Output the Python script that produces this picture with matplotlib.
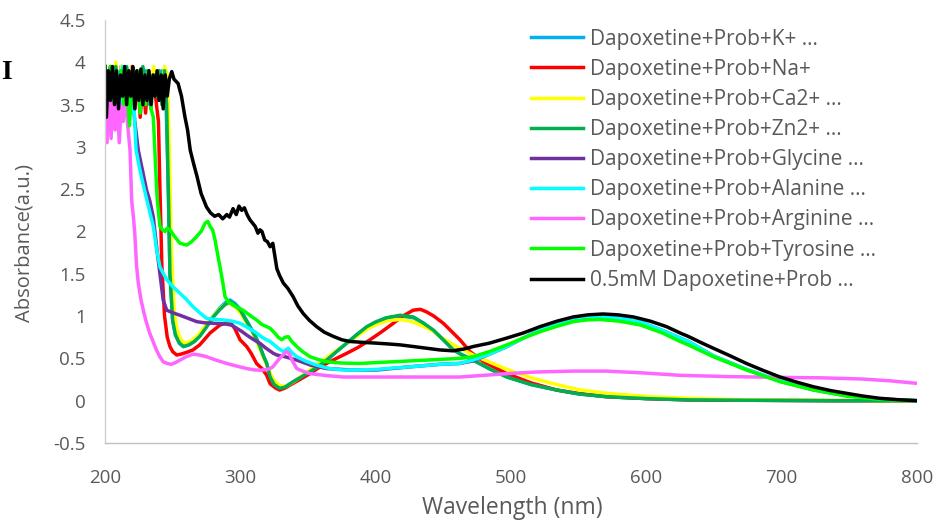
import matplotlib
matplotlib.use("Agg")
import matplotlib.pyplot as plt

plt.rcParams['font.family'] = ['Open Sans', 'DejaVu Sans']

# ---- data ----
labels = ["Dapoxetine+Prob+K+ ...", "Dapoxetine+Prob+Na+", "Dapoxetine+Prob+Ca2+ ...",
          "Dapoxetine+Prob+Zn2+ ...", "Dapoxetine+Prob+Glycine ...", "Dapoxetine+Prob+Alanine ...",
          "Dapoxetine+Prob+Arginine ...", "Dapoxetine+Prob+Tyrosine ...", "0.5mM Dapoxetine+Prob ..."]
colores = ['#00B0F0', '#FF0000', '#FFFF00', '#00B050', '#7030A0', '#00FFFF', '#FF66FF', '#00FF00', '#000000']

wl_k = [200, 203, 206, 209, 212, 215, 218, 221, 224, 227, 230, 233, 236, 239, 242, 245, 246.8, 248, 250, 252,
        255, 258, 262, 266, 270, 275, 280, 285, 289, 292.4, 296, 300, 303.5, 307, 311, 314.5, 317, 319.5, 322,
        325, 329, 333, 339, 345, 351.5, 358, 364, 371, 378.6, 386, 393.4, 400, 408, 418, 428, 435, 442.6, 450,
        457.4, 464, 472, 485, 497, 515, 534, 550, 571, 600, 631, 680, 740, 800]
abs_k = [3.85, 3.6, 3.9, 3.5, 3.95, 3.6, 3.9, 3.55, 3.85, 3.6, 3.9, 3.5, 3.85, 3.55, 3.9, 3.6, 2.5, 1.5, 0.95, 0.78,
         0.68, 0.64, 0.66, 0.70, 0.77, 0.88, 1.0, 1.1, 1.16, 1.19, 1.15, 1.08, 0.98, 0.88, 0.77, 0.64, 0.53, 0.44, 0.28,
         0.19, 0.15, 0.16, 0.22, 0.28, 0.34, 0.41, 0.48, 0.58, 0.68, 0.78, 0.87, 0.93, 0.98, 1.0, 0.98, 0.92, 0.83, 0.72,
         0.60, 0.54, 0.48, 0.37, 0.28, 0.19, 0.125, 0.08, 0.047, 0.025, 0.01, 0.005, 0.0, 0.0]

wl_na = [200, 202, 204, 206, 208, 210, 212, 214, 216, 218, 220, 222, 224, 226, 228, 230, 232, 234, 236, 238, 239.5,
         240.6, 242, 244, 246, 248, 250, 253, 256, 260, 265, 270, 277.6, 285, 292.4, 296, 299.8, 304.7, 308, 312,
         316, 319.5, 322, 326, 329, 333, 339, 345, 351.5, 357, 363.8, 371, 378.6, 387, 395.8, 404, 413, 420, 427.8,
         433, 437.6, 443, 450, 456, 462.3, 469.7, 480, 496.8, 515, 533.8, 550, 570.7, 600, 631, 680, 740, 800]
abs_na = [3.9, 3.7, 3.95, 3.6, 3.9, 3.65, 3.95, 3.55, 3.9, 3.7, 3.95, 3.45, 3.85, 3.35, 3.8, 3.4, 3.9, 3.6, 3.85, 3.5, 3.3,
          2.5, 1.6, 1.0, 0.75, 0.64, 0.58, 0.54, 0.55, 0.57, 0.60, 0.66, 0.80, 0.895, 0.93, 0.85, 0.72, 0.64, 0.56, 0.44,
          0.38, 0.30, 0.20, 0.15, 0.126, 0.15, 0.205, 0.26, 0.32, 0.38, 0.44, 0.50, 0.56, 0.63, 0.72, 0.81, 0.915, 1.0, 1.07,
          1.08, 1.05, 1.0, 0.915, 0.82, 0.72, 0.58, 0.46, 0.32, 0.21, 0.126, 0.085, 0.047, 0.025, 0.01, 0.005, 0.0, 0.0]

wl_ca = [200, 202, 204, 206, 208, 210, 212, 214, 216, 218, 220, 222, 224, 226, 228, 230, 232, 234, 236, 238, 240, 242,
         244, 246, 247.5, 249, 251, 253, 256, 259, 263, 268, 272, 276, 280, 285, 289, 292.4, 296, 300, 304, 308, 312,
         316, 320, 324, 328, 331, 335, 340, 346, 352, 358, 364, 371, 378, 386, 394, 402, 410, 418, 426, 434, 442.6,
         447.5, 457.5, 472, 485, 497, 515, 534, 550, 571, 600, 631, 670, 720, 800]
abs_ca = [3.95, 3.6, 3.9, 3.7, 4.0, 3.6, 3.95, 3.65, 3.9, 3.6, 3.95, 3.7, 3.9, 3.55, 3.9, 3.6, 3.85, 3.7, 3.95, 3.6, 3.9, 3.65,
          3.95, 3.85, 3.0, 1.8, 1.1, 0.85, 0.72, 0.68, 0.70, 0.76, 0.84, 0.93, 1.0, 1.09, 1.14, 1.15, 1.11, 1.04, 0.93, 0.84, 0.70,
          0.55, 0.40, 0.26, 0.19, 0.17, 0.18, 0.23, 0.30, 0.37, 0.44, 0.51, 0.59, 0.67, 0.76, 0.85, 0.91, 0.95, 0.96, 0.94, 0.89, 0.82,
          0.76, 0.66, 0.54, 0.45, 0.37, 0.27, 0.19, 0.13, 0.087, 0.05, 0.028, 0.012, 0.005, 0.0]

wl_zn = [200, 202, 204, 206, 208, 210, 212, 214, 216, 218, 220, 222, 224, 226, 228, 230, 232, 234, 236, 238, 240, 242,
         244, 245.5, 246.8, 248, 250, 252, 255, 257.9, 262, 266, 270, 275, 280, 285, 289, 292.4, 296, 300, 303.5, 307,
         311, 314.5, 317, 319.5, 322, 325, 329, 333, 339, 345, 351.5, 358, 363.8, 371, 378.6, 386, 393.4, 400, 408, 418,
         427.8, 435, 442.6, 450, 457.4, 464, 472, 485, 497, 515, 534, 550, 571, 600, 631, 680, 740, 800]
abs_zn = [3.9, 3.75, 3.95, 3.6, 3.95, 3.7, 3.9, 3.65, 3.95, 3.7, 3.9, 3.55, 3.85, 3.6, 3.95, 3.65, 3.9, 3.45, 3.85, 3.6, 3.9, 3.5,
          3.9, 3.5, 2.5, 1.5, 0.95, 0.78, 0.68, 0.64, 0.66, 0.70, 0.76, 0.87, 0.99, 1.08, 1.14, 1.17, 1.13, 1.07, 0.97, 0.875,
          0.76, 0.64, 0.53, 0.44, 0.28, 0.19, 0.147, 0.16, 0.225, 0.28, 0.343, 0.41, 0.48, 0.58, 0.68, 0.78, 0.875, 0.93, 0.98, 1.01,
          0.99, 0.92, 0.835, 0.72, 0.60, 0.54, 0.48, 0.37, 0.28, 0.19, 0.126, 0.08, 0.047, 0.025, 0.01, 0.005, 0.0, 0.0]

wl_gly = [200, 202, 204, 206, 208, 210, 212, 214, 216, 218, 220, 222, 224.6, 228, 230.7, 233, 235.7, 237, 239, 240.6,
          243, 245.6, 250, 255.4, 262, 267.8, 274, 280, 285, 290, 294, 297.3, 301, 304.7, 309, 314.5, 319, 324.4, 327,
          333, 341.7, 352, 363.8, 380, 400.8, 425, 447.5, 462, 472, 484, 497, 509, 521.4, 534, 546, 556, 565.8, 580,
          595.6, 612, 631, 649.5, 674, 698.8, 723.4, 748, 772.7, 800]
abs_gly = [3.95, 3.5, 3.9, 3.4, 3.85, 3.55, 3.9, 3.45, 3.8, 3.5, 3.7, 3.3, 2.96, 2.7, 2.49, 2.37, 2.17, 1.98, 1.7, 1.50,
           1.19, 1.07, 1.04, 1.01, 0.97, 0.934, 0.92, 0.915, 0.91, 0.905, 0.89, 0.856, 0.82, 0.776, 0.73, 0.678, 0.62, 0.56, 0.54,
           0.52, 0.48, 0.42, 0.38, 0.365, 0.363, 0.40, 0.43, 0.44, 0.47, 0.55, 0.64, 0.74, 0.835, 0.91, 0.97, 0.99, 1.0, 0.975,
           0.93, 0.83, 0.70, 0.53, 0.37, 0.23, 0.13, 0.06, 0.02, 0.0]

wl_ala = [200, 201.5, 203, 205, 207, 209, 211, 213, 215, 217, 219, 221, 223, 225.5, 228, 232, 235.7, 238, 240.6, 245.6,
          250, 255.4, 260, 265, 270, 275, 281, 287.4, 294, 299.8, 306, 312, 317, 322, 328, 331.8, 335.4, 338, 341.7,
          348, 356.4, 366, 376, 388, 400.7, 412, 425, 440, 447.5, 462, 472, 484, 497, 509, 521.4, 534, 546, 556, 565.8,
          580, 595.6, 612, 631, 649.5, 674, 698.8, 723.4, 748, 772.7, 800]
abs_ala = [3.2, 3.9, 3.3, 3.85, 3.4, 3.9, 3.45, 3.95, 3.5, 3.85, 3.4, 3.6, 2.96, 2.75, 2.57, 2.3, 2.06, 1.8, 1.58, 1.43,
           1.35, 1.27, 1.2, 1.11, 1.04, 0.974, 0.96, 0.954, 0.94, 0.915, 0.86, 0.80, 0.74, 0.70, 0.62, 0.58, 0.62, 0.57, 0.52,
           0.47, 0.42, 0.38, 0.363, 0.365, 0.37, 0.385, 0.40, 0.42, 0.43, 0.44, 0.48, 0.55, 0.64, 0.74, 0.835, 0.915, 0.974, 0.995, 1.0,
           0.975, 0.934, 0.83, 0.70, 0.53, 0.37, 0.235, 0.13, 0.06, 0.02, 0.0]

wl_arg = [200, 201.5, 203, 204.5, 206, 207.5, 209, 210.5, 212, 213.5, 215, 216.5, 218.5, 219.7, 221, 222, 223.3, 224.6,
          226.5, 228.3, 230.5, 233, 235.5, 238, 240.5, 243, 246, 249, 252, 255.4, 260, 265, 270, 275, 282, 290, 297,
          304.7, 310, 314.5, 318, 322, 324, 329, 334, 336, 338.5, 341.7, 346, 351.5, 362, 376, 395, 413, 440, 462.3,
          480, 497, 520, 546, 570, 595.6, 625, 660, 698.8, 730, 760, 780, 800]
abs_arg = [3.9, 3.05, 3.8, 3.1, 3.9, 3.2, 3.6, 3.05, 3.5, 3.3, 3.7, 3.3, 2.96, 2.37, 2.17, 1.98, 1.6, 1.39,
           1.2, 1.07, 0.93, 0.80, 0.70, 0.60, 0.52, 0.46, 0.44, 0.43, 0.45, 0.48, 0.52, 0.55, 0.54, 0.52, 0.48, 0.44, 0.41,
           0.38, 0.365, 0.36, 0.365, 0.38, 0.40, 0.50, 0.58, 0.56, 0.47, 0.38, 0.35, 0.32, 0.30, 0.28, 0.28, 0.28, 0.28, 0.28,
           0.30, 0.32, 0.34, 0.35, 0.35, 0.33, 0.30, 0.285, 0.276, 0.27, 0.256, 0.235, 0.205]

wl_tyr = [200, 202, 204, 206, 208, 210, 212, 214, 216, 218, 220, 222, 224, 226, 228, 230, 232, 234, 235.7, 237, 238.5,
          240.6, 242.5, 244.3, 246, 248, 251, 255.4, 260.4, 264, 267.7, 271, 274, 276, 277.6, 279.5, 281.3, 283, 285,
          287, 288.7, 291, 294.8, 298, 302, 307, 312, 316, 319.5, 322, 325.6, 328, 330.6, 333, 335.5, 338, 341.7, 346,
          351.5, 357, 363.8, 375, 388, 400, 413, 425, 437.7, 450, 462.3, 472, 484, 497, 509, 521.4, 534, 546, 556,
          565.8, 580, 595.6, 612, 625, 631, 649.5, 674, 698.8, 723.4, 748, 772.7, 800]
abs_tyr = [3.95, 3.7, 3.95, 3.55, 3.9, 3.6, 3.9, 3.5, 3.85, 3.25, 3.8, 3.55, 3.9, 3.4, 3.85, 3.5, 3.9, 3.45, 3.35, 2.9, 2.4,
           2.06, 2.02, 2.0, 2.04, 2.02, 1.95, 1.86, 1.84, 1.88, 1.94, 2.0, 2.10, 2.12, 2.06, 2.02, 1.90, 1.75, 1.58,
           1.4, 1.23, 1.17, 1.13, 1.1, 1.07, 1.01, 0.954, 0.9, 0.875, 0.856, 0.797, 0.75, 0.72, 0.75, 0.757, 0.70, 0.64, 0.58,
           0.52, 0.49, 0.46, 0.445, 0.44, 0.45, 0.46, 0.47, 0.48, 0.49, 0.50, 0.52, 0.58, 0.66, 0.74, 0.815, 0.88, 0.934, 0.955,
           0.96, 0.94, 0.895, 0.80, 0.70, 0.66, 0.52, 0.363, 0.225, 0.126, 0.055, 0.016, 0.0]

wl_prob = [200, 201, 202.5, 204, 205.5, 207, 208.5, 210, 211.5, 213, 214.5, 216, 217.5, 219, 220.5, 222, 223.5, 225,
           226.5, 228, 229.5, 231, 232.5, 234, 235.5, 237, 238.5, 240, 241.5, 243, 244.5, 246, 247.5, 249.3, 251, 254,
           256.5, 259, 261, 263, 265.5, 268, 271, 275, 278, 281, 284, 287, 290, 292, 294.6, 297, 299, 301, 303, 305,
           307, 309, 311, 313, 314.5, 316, 318, 320, 322, 324, 327, 329, 331.8, 335, 339, 342.5, 346.5, 351, 356.4,
           362, 368.7, 375, 381, 390, 400.8, 410, 418, 428, 437.7, 447.5, 457, 465, 472, 484, 496.8, 509, 521.4, 534,
           546, 557, 568, 579, 590.4, 603, 615, 625, 631, 640, 649.5, 662, 674, 686, 698.8, 711, 723.4, 736, 748, 760,
           772.7, 786, 800]
abs_prob = [3.95, 3.35, 3.9, 3.55, 3.95, 3.5, 3.9, 3.45, 3.85, 3.6, 3.95, 3.5, 3.9, 3.6, 3.95, 3.45, 3.9, 3.55,
            3.92, 3.5, 3.85, 3.55, 3.9, 3.5, 3.85, 3.6, 3.9, 3.55, 3.85, 3.45, 3.85, 3.6, 3.8, 3.89, 3.8, 3.75,
            3.6, 3.36, 3.2, 2.96, 2.8, 2.65, 2.45, 2.29, 2.22, 2.18, 2.2, 2.15, 2.2, 2.17, 2.27, 2.2, 2.3, 2.25, 2.28, 2.2,
            2.14, 2.1, 2.06, 1.98, 2.02, 2.0, 1.9, 1.88, 1.82, 1.86, 1.56, 1.48, 1.39, 1.33, 1.23, 1.12, 1.03, 0.95, 0.875,
            0.81, 0.76, 0.72, 0.70, 0.69, 0.68, 0.67, 0.66, 0.64, 0.62, 0.60, 0.59, 0.61, 0.64, 0.68, 0.74, 0.80, 0.875, 0.94,
            0.99, 1.015, 1.025, 1.015, 0.99, 0.94, 0.875, 0.80, 0.76, 0.69, 0.62, 0.53, 0.44, 0.36, 0.28, 0.22, 0.165, 0.12,
            0.087, 0.055, 0.028, 0.012, 0.0]

ondas = [wl_k, wl_na, wl_ca, wl_zn, wl_gly, wl_ala, wl_arg, wl_tyr, wl_prob]
absorb = [abs_k, abs_na, abs_ca, abs_zn, abs_gly, abs_ala, abs_arg, abs_tyr, abs_prob]

x_ticks = [200, 300, 400, 500, 600, 700, 800]
y_ticks = [-0.5, 0, 0.5, 1, 1.5, 2, 2.5, 3, 3.5, 4, 4.5]
y_tick_labels = ['-0.5', '0', '0.5', '1', '1.5', '2', '2.5', '3', '3.5', '4', '4.5']

cinza = '#595959'

fig = plt.figure(figsize=(9.39, 5.26), dpi=100)
ax = fig.add_axes([105 / 939, 1 - 443 / 526, 812 / 939, 423 / 526])

for wl, ab, cor, nome in zip(ondas, absorb, colores, labels):
    ax.plot(wl, ab, color=cor, linewidth=2.5, label=nome, solid_joinstyle='round')

ax.set_xlim(200, 800)
ax.set_ylim(-0.5, 4.5)
ax.set_xticks(x_ticks)
ax.set_yticks(y_ticks)
ax.set_yticklabels(y_tick_labels)
ax.tick_params(axis='both', length=0, labelsize=13.5, labelcolor=cinza)
ax.tick_params(axis='y', pad=14)
ax.tick_params(axis='x', pad=18.5)

for lado in ['top', 'right']:
    ax.spines[lado].set_visible(False)
ax.spines['left'].set_color('#D0D0D0')
ax.spines['bottom'].set_color('#BFBFBF')
ax.spines['left'].set_linewidth(1.0)
ax.spines['bottom'].set_linewidth(1.0)

fig.text(512 / 939, 1 - 508 / 526, 'Wavelength (nm)', ha='center', va='center', fontsize=16.5, color=cinza)
fig.text(25 / 939, 1 - 243 / 526, 'Absorbance(a.u.)', ha='center', va='center', rotation=90, fontsize=14.5, color=cinza)
fig.text(1 / 939, 1 - 72 / 526, 'I', ha='left', va='center', fontsize=20, fontweight='bold',
         family='Liberation Serif', color='black')

fig.legend(loc='upper left', bbox_to_anchor=(531 / 939, 1 - 28.5 / 526), frameon=False, fontsize=15,
           handlelength=2.5, handletextpad=0.34, labelspacing=0.44, borderpad=0, borderaxespad=0,
           labelcolor=cinza)

fig.savefig('out.png', dpi=100)
plt.close()
